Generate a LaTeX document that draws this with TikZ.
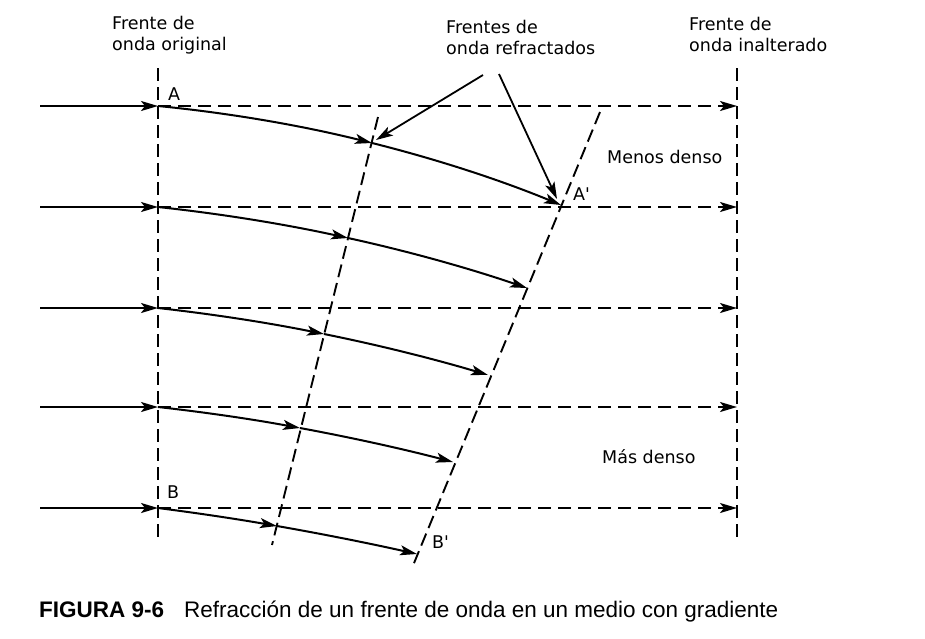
\documentclass[tikz,border=0pt]{standalone}
\usepackage{fontspec}
\setmainfont{DejaVu Sans}
\newfontfamily\capfont{Liberation Sans}
\usetikzlibrary{arrows.meta}
\begin{document}
\begin{tikzpicture}[x=1pt,y=-1pt,
  tip/.style={-{Stealth[length=17pt,width=10pt,inset=4pt]}},
  ray/.style={line width=2pt,tip},
  front/.style={line width=1.9pt,dash pattern=on 13pt off 6pt},
  guide/.style={line width=1.9pt,dash pattern=on 13pt off 7pt,tip},
  lbl/.style={font=\fontsize{17.5}{21}\selectfont,inner sep=0pt,align=left},
  captionstyle/.style={font=\capfont\fontsize{22.5}{26}\selectfont,inner sep=0pt,anchor=base west}]
\useasboundingbox (0,0) rectangle (925,638);
% wave fronts
\coordinate (o1) at (158,68); \coordinate (o2) at (158,537);
\coordinate (u1) at (737,68); \coordinate (u2) at (737,537);
\coordinate (f1a) at (378,117); \coordinate (f1b) at (272,545);
\coordinate (f2a) at (600,112); \coordinate (f2b) at (412,568);
\draw[front] (o1) -- (o2);
\draw[front] (u1) -- (u2);
\draw[front] (f1a) -- (f1b);
\draw[front] (f2a) -- (f2b);
% rays: start, origin point, unaltered end
\foreach \i/\y in {1/106,2/207,3/308,4/407,5/508}{
  \coordinate (s\i) at (40,\y);
  \coordinate (p\i) at (158,\y);
  \coordinate (q\i) at (737,\y);
  \draw[ray] (s\i) -- (p\i);
  \draw[guide] (p\i) -- (q\i);
}
\coordinate (m1) at (372,143); \coordinate (e1) at (561,205);
\coordinate (m2) at (348,238); \coordinate (e2) at (527,288);
\coordinate (m3) at (324,334); \coordinate (e3) at (488,375);
\coordinate (m4) at (300,428); \coordinate (e4) at (453,462);
\coordinate (m5) at (277,526); \coordinate (e5) at (417,554);
\draw[ray] (p1) .. controls (229.7,113.0) and (302.1,125.6) .. (m1);
\draw[ray] (m1) .. controls (436,159) and (500,179.8) .. (e1);
\draw[ray] (p2) .. controls (221.6,213.8) and (285.5,224.3) .. (m2);
\draw[ray] (m2) .. controls (408.6,251.3) and (468.3,268) .. (e2);
\draw[ray] (p3) .. controls (213.7,314.2) and (269.1,322.9) .. (m3);
\draw[ray] (m3) .. controls (379.3,345.2) and (434,358.9) .. (e3);
\draw[ray] (p4) .. controls (205.5,412.3) and (253,419.3) .. (m4);
\draw[ray] (m4) .. controls (351.3,437.5) and (402.5,448.8) .. (e4);
\draw[ray] (p5) .. controls (197.8,513.1) and (237.5,519.1) .. (m5);
\draw[ray] (m5) .. controls (323.9,534.2) and (370.6,543.6) .. (e5);
% labels
\node[lbl,anchor=north west] (lorig) at (112,16) {Frente de\\onda original};
\node[lbl,anchor=north west] (lrefr) at (446,20) {Frentes de\\onda refractados};
\node[lbl,anchor=north west] (lunalt) at (689,16.5) {Frente de\\onda inalterado};
\node[lbl,anchor=base west] (lmenos) at (607,163) {Menos denso};
\node[lbl,anchor=base west] (lmas) at (602,463) {Más denso};
\node[lbl,anchor=base west] (lA) at (168,100) {A};
\node[lbl,anchor=base west] (lAp) at (573,200) {A\textquotesingle};
\node[lbl,anchor=base west] (lB) at (167,498) {B};
\node[lbl,anchor=base west] (lBp) at (432,548) {B\textquotesingle};
% pointers
\coordinate (r1) at (483,75); \coordinate (r2) at (499,74);
\coordinate (t1) at (376,140); \coordinate (t2) at (557,199);
\draw[line width=1.8pt,tip] (r1) -- (t1);
\draw[line width=1.8pt,tip] (r2) -- (t2);
% caption
\node[captionstyle] (fig) at (39,617) {\bfseries FIGURA 9-6};
\node[captionstyle] (captxt) at (184,617) {Refracción de un frente de onda en un medio con gradiente};
\end{tikzpicture}
\end{document}
